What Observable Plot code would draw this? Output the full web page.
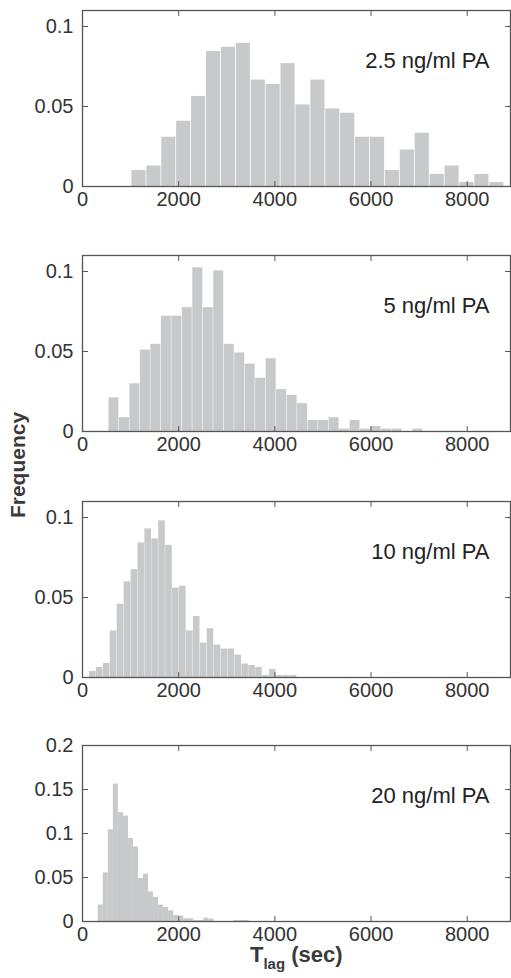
<!DOCTYPE html>
<html><head><meta charset="utf-8">
<script src="https://cdn.jsdelivr.net/npm/d3@7"></script>
<script src="https://cdn.jsdelivr.net/npm/@observablehq/plot@0.6"></script>
<style>
body{margin:0;background:#fff;}
#root{position:relative;width:511px;height:978px;overflow:hidden;font-family:"Liberation Sans",Arial,Helvetica,sans-serif;}
#root svg{position:absolute;left:0;}
#ylab{position:absolute;left:18px;top:465px;transform:translate(-50%,-50%) rotate(-90deg);font-weight:bold;font-size:21px;color:#3a3a3a;white-space:nowrap;}
#xlab{position:absolute;left:250px;top:944px;font-weight:bold;font-size:22px;color:#3a3a3a;white-space:nowrap;line-height:1;}
#xlab sub{font-size:15px;vertical-align:-7px;}
</style></head><body><div id="root"><div id="ylab">Frequency</div><div id="xlab">T<sub>lag</sub> (sec)</div></div>
<script>
// ---- data ----
const panelLabels = ["2.5 ng/ml PA", "5 ng/ml PA", "10 ng/ml PA", "20 ng/ml PA"];
const binStart = [1020, 544, 142, 328];     // left edge of first bin (sec)
const binWidth = [310, 218, 144, 104.5];    // bin width (sec)
const freq2_5 = [0.0100, 0.0128, 0.0308, 0.0408, 0.0563, 0.0843, 0.0870, 0.0895, 0.0665, 0.0638,
                 0.0768, 0.0510, 0.0665, 0.0485, 0.0458, 0.0308, 0.0308, 0.0100, 0.0228, 0.0333,
                 0.0075, 0.0128, 0.0025, 0.0075, 0.0025];
const freq5 = [0.0210, 0.0086, 0.0298, 0.0509, 0.0545, 0.0721, 0.0721, 0.0774, 0.1023, 0.0774,
               0.1004, 0.0545, 0.0491, 0.0421, 0.0333, 0.0455, 0.0262, 0.0226, 0.0174, 0.0069,
               0.0069, 0.0086, 0.0015, 0.0069, 0.0015, 0.0031, 0.0015, 0.0015, 0, 0.0015];
const freq10 = [0.0038, 0.0063, 0.0088, 0.0291, 0.0458, 0.0598, 0.0674, 0.0841, 0.0929, 0.0866,
                0.0979, 0.0826, 0.0559, 0.0571, 0.0291, 0.0381, 0.0215, 0.0305, 0.0203, 0.0178,
                0.0178, 0.0140, 0.0084, 0.0075, 0.0063, 0.0013, 0.0050, 0.0013, 0.0013, 0.0013];
const freq20 = [0.0187, 0.0553, 0.1042, 0.1561, 0.1237, 0.1198, 0.0943, 0.0847, 0.0489, 0.0538,
                0.0336, 0.0275, 0.0187, 0.0160, 0.0122, 0.0069, 0.0061, 0.0031, 0.0031, 0.0011,
                0.0011, 0.0038, 0.0027, 0, 0, 0, 0, 0.0011, 0.0011, 0.0011];
const xTicks = [0, 2000, 4000, 6000, 8000];
const yTicksLow = [0, 0.05, 0.1];
const yTicksHigh = [0, 0.05, 0.1, 0.15, 0.2];
const xMax = 8900;
const yMax = [0.11, 0.11, 0.11, 0.2];

// ---- layout / style ----
const freqs = [freq2_5, freq5, freq10, freq20];
const yTicksList = [yTicksLow, yTicksLow, yTicksLow, yTicksHigh];
const panelTops = [10, 255, 500.5, 745];
const plotH = 176;
const axisColor = "#555";
const barFill = "#c8c9cb";
const insets = [0.8, 0.5, 0.35, 0];
const tickShape = {draw(ctx, l) { ctx.moveTo(0, 0); ctx.lineTo(0, -l); }};
const root = document.getElementById("root");

freqs.forEach((f, p) => {
  const rows = f.map((v, i) => ({x1: binStart[p] + i * binWidth[p], x2: binStart[p] + (i + 1) * binWidth[p], f: v}));
  const yt = yTicksList[p];
  const tk = {length: 5, anchor: "start", shape: tickShape, stroke: axisColor, strokeWidth: 1};
  const svg = Plot.plot({
    width: 511,
    height: 10 + plotH + 40,
    marginTop: 10,
    marginBottom: 40,
    marginLeft: 82,
    marginRight: 1,
    style: {fontFamily: '"Liberation Sans", Arial, Helvetica, sans-serif', fontSize: "20px", color: "#333", background: "transparent"},
    x: {domain: [0, xMax]},
    y: {domain: [0, yMax[p]]},
    marks: [
      Plot.rectY(rows.filter(d => d.f > 0), {x1: "x1", x2: "x2", y: "f", fill: barFill, insetLeft: insets[p] / 2, insetRight: insets[p] / 2}),
      Plot.vector(xTicks, {x: d => d, frameAnchor: "bottom", rotate: 0, ...tk}),
      Plot.vector(xTicks, {x: d => d, frameAnchor: "top", rotate: 180, ...tk}),
      Plot.vector(yt, {y: d => d, frameAnchor: "left", rotate: 90, ...tk}),
      Plot.vector(yt, {y: d => d, frameAnchor: "right", rotate: -90, ...tk}),
      Plot.frame({stroke: axisColor, strokeWidth: 1.3}),
      Plot.axisX(xTicks, {tickSize: 0, tickPadding: 5, label: null, fontSize: 20, fill: "#333", tickFormat: d => String(d)}),
      Plot.axisY(yt, {tickSize: 0, tickPadding: 9, label: null, fontSize: 20, fill: "#333", tickFormat: d => String(d)}),
      Plot.text([panelLabels[p]], {text: d => d, frameAnchor: "top-right", dx: -21, dy: 50, textAnchor: "end", lineAnchor: "middle", fontSize: 22, fill: "#222"})
    ]
  });
  svg.style.top = (panelTops[p] - 10) + "px";
  root.appendChild(svg);
});
</script>
</body></html>
